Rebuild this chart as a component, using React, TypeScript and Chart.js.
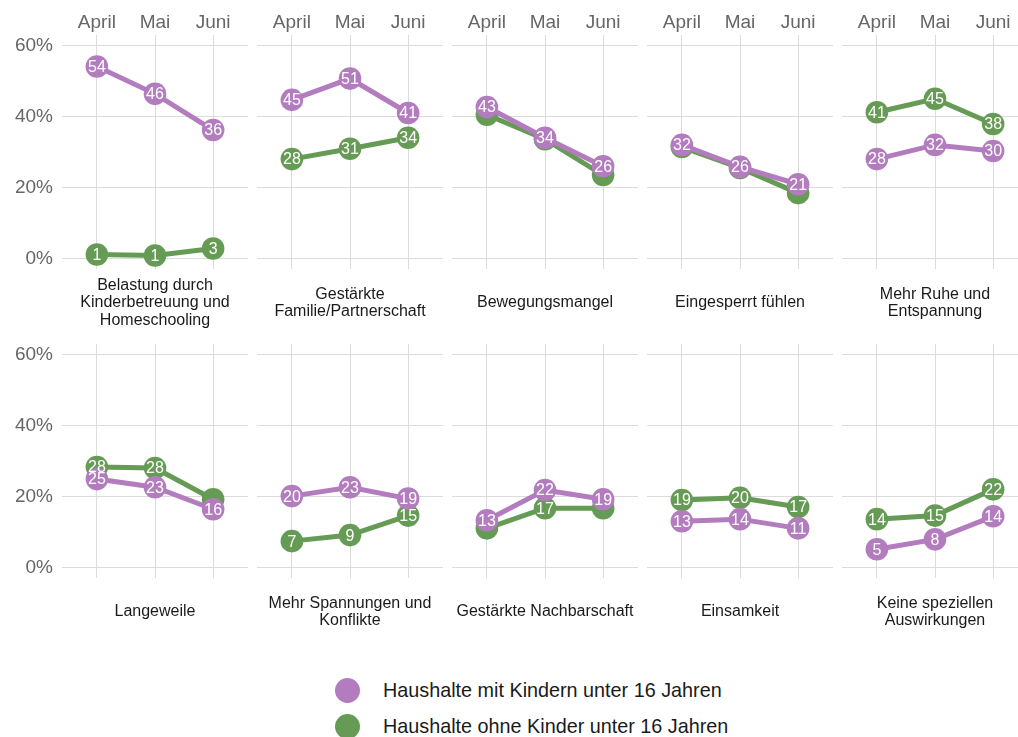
import React, { useEffect, useRef } from "react";
import { Chart, registerables } from "chart.js";

Chart.register(...registerables);

// ---------- data ----------
const months = ["April", "Mai", "Juni"];
const facets = [
  "Belastung durch\nKinderbetreuung und\nHomeschooling",
  "Gestärkte\nFamilie/Partnerschaft",
  "Bewegungsmangel",
  "Eingesperrt fühlen",
  "Mehr Ruhe und\nEntspannung",
  "Langeweile",
  "Mehr Spannungen und\nKonflikte",
  "Gestärkte Nachbarschaft",
  "Einsamkeit",
  "Keine speziellen\nAuswirkungen",
];
const seriesNames = [
  "Haushalte mit Kindern unter 16 Jahren",
  "Haushalte ohne Kinder unter 16 Jahren",
];
const withKids = [
  [54.1, 46.4, 36.2],
  [44.7, 50.7, 41.0],
  [42.7, 34.0, 26.0],
  [32.0, 25.8, 20.9],
  [28.0, 32.0, 30.3],
  [24.9, 22.6, 16.4],
  [20.1, 22.6, 19.4],
  [13.3, 21.8, 19.2],
  [13.0, 13.6, 11.0],
  [5.1, 7.9, 14.4],
];
const withoutKids = [
  [1.1, 0.8, 2.8],
  [28.0, 30.9, 34.0],
  [40.5, 33.6, 23.5],
  [31.4, 25.5, 18.4],
  [41.2, 45.0, 37.9],
  [28.3, 28.0, 19.2],
  [7.4, 9.1, 14.6],
  [11.0, 16.7, 16.7],
  [19.0, 19.6, 17.0],
  [13.6, 14.6, 22.0],
];
const yTicks = [0, 20, 40, 60];

// ---------- style ----------
const PURPLE = "#b37cbf";
const GREEN = "#669b55";
const GRID = "#dcdcdc";
const FONT = "'Liberation Sans', Arial, Helvetica, sans-serif";

const PLOT_W = 186;
const PLOT_H = 234;
const COL_STEP = 195;
const LEFT0 = 62;
const ROW_TOP = [35, 344];
const TOP_AXIS = 35;
const STRIP = 70;

function Panel({ idx }: { idx: number }) {
  const ref = useRef<HTMLCanvasElement>(null);
  const row = Math.floor(idx / 5);
  const col = idx % 5;
  const L = col === 0 ? LEFT0 : 0;
  const T = row === 0 ? TOP_AXIS : 0;
  const left = LEFT0 + col * COL_STEP - L;
  const top = ROW_TOP[row] - T;
  const w = L + PLOT_W;
  const h = T + PLOT_H + STRIP;

  useEffect(() => {
    const labelPlugin = {
      id: "pointLabels",
      afterDatasetsDraw(chart: any) {
        const ctx = chart.ctx;
        const m0 = chart.getDatasetMeta(0);
        const m1 = chart.getDatasetMeta(1);
        ctx.save();
        ctx.font = `16px ${FONT}`;
        ctx.fillStyle = "#ffffff";
        ctx.textAlign = "center";
        ctx.textBaseline = "middle";
        m0.data.forEach((pt: any, i: number) => {
          ctx.fillText(String(Math.round(withKids[idx][i])), pt.x, pt.y + 1);
        });
        m1.data.forEach((pt: any, i: number) => {
          if (Math.abs(pt.y - m0.data[i].y) < 11) return;
          ctx.fillText(String(Math.round(withoutKids[idx][i])), pt.x, pt.y + 1);
        });
        ctx.restore();
      },
    };
    const stripPlugin = {
      id: "strip",
      afterDraw(chart: any) {
        const ctx = chart.ctx;
        const a = chart.chartArea;
        const lines = facets[idx].split("\n");
        const cx = (a.left + a.right) / 2;
        const cy = a.bottom + 34;
        ctx.save();
        ctx.font = `16px ${FONT}`;
        ctx.fillStyle = "#1a1a1a";
        ctx.textAlign = "center";
        ctx.textBaseline = "middle";
        lines.forEach((ln, i) => {
          ctx.fillText(ln, cx, cy + (i - (lines.length - 1) / 2) * 17.5);
        });
        ctx.restore();
      },
    };
    const chart = new Chart(ref.current as HTMLCanvasElement, {
      type: "line",
      data: {
        datasets: [
          {
            label: seriesNames[0],
            data: withKids[idx].map((v, i) => ({ x: i, y: v })),
            borderColor: PURPLE,
            backgroundColor: PURPLE,
            pointBackgroundColor: PURPLE,
            pointBorderWidth: 0,
            pointRadius: 11.3,
            borderWidth: 5,
            tension: 0,
          },
          {
            label: seriesNames[1],
            data: withoutKids[idx].map((v, i) => ({ x: i, y: v })),
            borderColor: GREEN,
            backgroundColor: GREEN,
            pointBackgroundColor: GREEN,
            pointBorderWidth: 0,
            pointRadius: 11.3,
            borderWidth: 5,
            tension: 0,
          },
        ],
      },
      options: {
        responsive: false,
        maintainAspectRatio: false,
        animation: false,
        events: [],
        layout: {
          autoPadding: false,
          padding: { left: 0, right: 0, top: 0, bottom: STRIP },
        },
        plugins: {
          legend: { display: false },
          tooltip: { enabled: false },
          title: { display: false },
        },
        scales: {
          x: {
            type: "linear",
            position: "top",
            min: -0.6,
            max: 2.6,
            afterBuildTicks: (a: any) => {
              a.ticks = months.map((_, i) => ({ value: i }));
            },
            afterFit: (a: any) => {
              a.height = T;
              a.paddingLeft = 0;
              a.paddingRight = 0;
            },
            ticks: {
              display: row === 0,
              autoSkip: false,
              maxRotation: 0,
              callback: (v: any) => months[v as number],
              font: { family: FONT, size: 19 },
              color: "#666666",
              padding: 1,
            },
            grid: { color: GRID, lineWidth: 1, drawTicks: false },
            border: { display: false },
          },
          y: {
            type: "linear",
            min: -3,
            max: 63,
            afterBuildTicks: (a: any) => {
              a.ticks = yTicks.map((v) => ({ value: v }));
            },
            afterFit: (a: any) => {
              a.width = L;
              a.paddingTop = 0;
              a.paddingBottom = 0;
            },
            ticks: {
              display: col === 0,
              callback: (v: any) => `${v}%`,
              font: { family: FONT, size: 19 },
              color: "#666666",
              padding: 9,
            },
            grid: { color: GRID, lineWidth: 1, drawTicks: false },
            border: { display: false },
          },
        },
      } as any,
      plugins: [labelPlugin, stripPlugin],
    });
    return () => chart.destroy();
  }, [idx]);

  return (
    <canvas
      ref={ref}
      width={w}
      height={h}
      style={{ position: "absolute", left, top, width: w, height: h }}
    />
  );
}

export default function App() {
  const legendColors = [PURPLE, GREEN];
  const legendY = [690, 726];
  return (
    <div
      style={{
        position: "fixed",
        left: 0,
        top: 0,
        width: 1018,
        height: 737,
        overflow: "hidden",
        background: "#ffffff",
      }}
    >
      {facets.map((_, i) => (
        <Panel key={i} idx={i} />
      ))}
      {seriesNames.map((name, i) => (
        <div key={name}>
          <div
            style={{
              position: "absolute",
              left: 347 - 12.5,
              top: legendY[i] - 12.5,
              width: 25,
              height: 25,
              borderRadius: "50%",
              background: legendColors[i],
            }}
          />
          <div
            style={{
              position: "absolute",
              left: 383,
              top: legendY[i] - 12,
              height: 24,
              lineHeight: "24px",
              fontFamily: FONT,
              fontSize: 19.8,
              color: "#1a1a1a",
              whiteSpace: "nowrap",
            }}
          >
            {name}
          </div>
        </div>
      ))}
    </div>
  );
}
